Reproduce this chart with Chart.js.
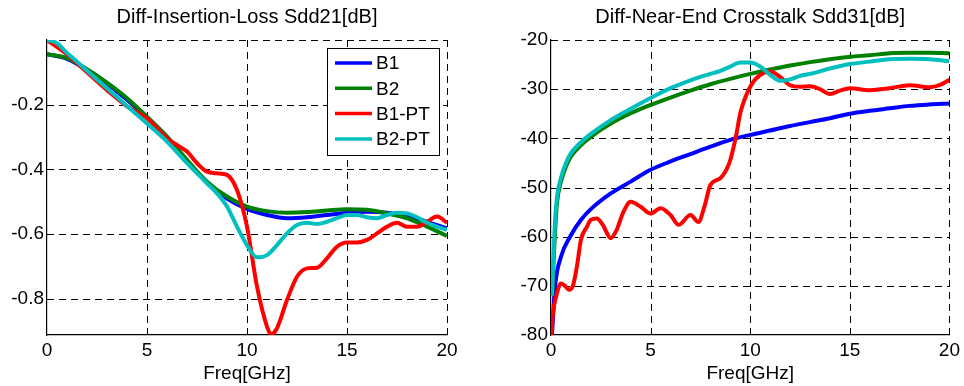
<!DOCTYPE html>
<html>
<head>
<meta charset="utf-8">
<script src="https://cdn.jsdelivr.net/npm/chart.js@4.4.0/dist/chart.umd.min.js"></script>
<style>
  html, body { margin: 0; padding: 0; background: #fff; }
  #wrap { position: relative; width: 964px; height: 386px; }
  .box { position: absolute; top: 0; width: 482px; height: 386px; }
</style>
</head>
<body>
<div id="wrap">
  <div class="box" style="left:0"><canvas id="ilChart"></canvas></div>
  <div class="box" style="left:482px"><canvas id="nextChart"></canvas></div>
</div>
<script>
// Insertion loss Sdd21 (left)
const ilB1F = [0, 1, 2, 3, 4, 5, 6, 7, 8, 9, 10, 11, 12, 13, 14, 15, 16, 17, 18, 19, 20];
const ilB1 = [-0.044, -0.058, -0.092, -0.135, -0.185, -0.24, -0.3, -0.372, -0.44, -0.49, -0.522, -0.541, -0.551, -0.548, -0.541, -0.534, -0.531, -0.534, -0.544, -0.562, -0.582];
const ilB2F = [0, 1, 2, 3, 4, 5, 6, 7, 8, 9, 10, 11, 12, 13, 14, 15, 16, 17, 18, 19, 20];
const ilB2 = [-0.044, -0.056, -0.09, -0.132, -0.18, -0.237, -0.299, -0.371, -0.438, -0.484, -0.515, -0.529, -0.534, -0.532, -0.527, -0.523, -0.525, -0.536, -0.551, -0.577, -0.606];
const ilB1ptF = [0, 1, 2, 3, 4, 5, 6, 6.5, 7, 7.5, 8, 8.5, 9, 9.5, 10, 10.5, 11, 11.2, 11.5, 12, 12.5, 13, 13.5, 14, 14.5, 15, 15.5, 16, 16.5, 17, 17.5, 18, 18.5, 19, 19.5, 20];
const ilB1pt = [0, -0.045, -0.1, -0.155, -0.205, -0.242, -0.304, -0.325, -0.345, -0.381, -0.407, -0.412, -0.417, -0.464, -0.577, -0.762, -0.886, -0.91, -0.891, -0.804, -0.732, -0.706, -0.704, -0.675, -0.639, -0.626, -0.626, -0.618, -0.598, -0.577, -0.565, -0.577, -0.577, -0.562, -0.546, -0.565];
const ilB2ptF = [0, 0.5, 1, 1.5, 2, 3, 4, 5, 6, 7, 8, 8.5, 9, 9.5, 10, 10.5, 11, 11.5, 12, 12.5, 13, 13.5, 14, 14.5, 15, 15.5, 16, 16.5, 17, 17.5, 18, 18.5, 19, 19.5, 20];
const ilB2pt = [0, -0.01, -0.04, -0.067, -0.095, -0.149, -0.204, -0.258, -0.314, -0.381, -0.443, -0.474, -0.515, -0.577, -0.634, -0.672, -0.665, -0.634, -0.598, -0.572, -0.565, -0.569, -0.562, -0.551, -0.541, -0.541, -0.548, -0.551, -0.541, -0.534, -0.536, -0.548, -0.565, -0.577, -0.587];
const ilTicks = [-0.8, -0.6, -0.4, -0.2, 0];

// Near-end crosstalk Sdd31 (right)
const nxB1F = [0.05, 0.2, 0.5, 1, 1.5, 2, 3, 4, 5, 6, 7, 8, 9, 10, 11, 12, 13, 14, 15, 16, 17, 18, 19, 20];
const nxB1 = [-80, -70.2, -64.1, -59.7, -56.6, -54.4, -51.2, -48.8, -46.4, -44.7, -43.2, -41.7, -40.3, -39.3, -38.4, -37.5, -36.7, -35.9, -35, -34.4, -33.9, -33.4, -33.1, -32.9];
const nxB2F = [0.05, 0.2, 0.3, 0.5, 0.75, 1, 1.5, 2, 3, 4, 5, 6, 7, 8, 9, 10, 11, 12, 13, 14, 15, 16, 17, 18, 19, 20];
const nxB2 = [-72, -59.3, -53.2, -48.8, -45.8, -43.7, -41.4, -39.7, -37, -34.9, -33.2, -31.7, -30.3, -29, -27.9, -26.9, -26, -25.2, -24.5, -23.9, -23.4, -23.1, -22.7, -22.6, -22.6, -22.7];
const nxB1ptF = [0.02, 0.1, 0.3, 0.5, 0.7, 0.9, 1.1, 1.3, 1.5, 1.8, 2, 2.3, 2.6, 3, 3.3, 3.6, 4, 4.5, 5, 5.5, 6, 6.4, 7, 7.4, 7.7, 8, 8.5, 8.8, 9, 9.3, 9.5, 10, 10.5, 11, 11.5, 12, 12.5, 13, 13.5, 14, 14.5, 15, 16, 17, 18, 19, 19.5, 20];
const nxB1pt = [-80, -75.6, -71.5, -69.5, -70, -70.8, -70, -66.1, -60.7, -58, -56.6, -56.3, -57.6, -60.3, -58.6, -55.3, -52.9, -53.9, -55.3, -54.2, -55.6, -57.6, -55.6, -57, -53.9, -49.5, -48.1, -46.4, -44.4, -39.3, -34.9, -29.5, -27.1, -26.4, -27.5, -29.2, -29.5, -29.4, -30, -31, -30.3, -29.8, -30.2, -29.8, -29.2, -29.6, -29.2, -28.1];
const nxB2ptF = [0.05, 0.2, 0.3, 0.5, 0.75, 1, 1.5, 2, 3, 4, 5, 6, 7, 8, 8.5, 9, 9.5, 10, 10.5, 11, 11.5, 12, 12.5, 13, 14, 15, 16, 17, 18, 19, 20];
const nxB2pt = [-72, -57, -52, -48, -45, -43, -40.8, -39.1, -36.3, -34, -31.8, -29.8, -28.2, -26.9, -26.3, -25.4, -24.6, -24.6, -25.4, -27.1, -28.3, -28, -27.3, -26.9, -25.8, -24.9, -24.4, -23.9, -23.8, -23.9, -24.3];
const nxTicks = [-80, -70, -60, -50, -40, -30, -20];

const freqTicks = [0, 5, 10, 15, 20];
const seriesNames = ['B1', 'B2', 'B1-PT', 'B2-PT'];
const seriesColors = ['#0000ff', '#008000', '#ff0000', '#00bfbf'];

const FONT = '"Liberation Sans", Arial, Helvetica, sans-serif';
const FSIZE = 19;

function pts(xs, ys) {
    return xs.map((x, i) => ({ x: x, y: ys[i] }));
}

function makeDatasets(pairs) {
    return pairs.map((p, i) => ({
        label: seriesNames[i],
        data: pts(p[0], p[1]),
        borderColor: seriesColors[i],
        backgroundColor: seriesColors[i],
        borderWidth: 4,
        pointRadius: 0,
        cubicInterpolationMode: 'monotone',
        fill: false,
        order: 4 - i
    }));
}

// legend box drawn inside the plot area, like the MATLAB one
const insideLegend = {
    id: 'insideLegend',
    afterDatasetsDraw(chart, args, opts) {
        if (!opts.show) return;
        const ctx = chart.ctx;
        const area = chart.chartArea;
        const w = 112, h = 107;
        const x0 = area.right - 8 - w, y0 = area.top + 8;
        ctx.save();
        ctx.fillStyle = '#fff';
        ctx.fillRect(x0, y0, w, h);
        ctx.strokeStyle = '#000';
        ctx.lineWidth = 1;
        ctx.strokeRect(x0 + 0.5, y0 + 0.5, w, h);
        ctx.font = FSIZE + 'px ' + FONT;
        ctx.textBaseline = 'middle';
        chart.data.datasets.forEach((ds, i) => {
            const y = y0 + 15 + i * 25.3;
            ctx.strokeStyle = ds.borderColor;
            ctx.lineWidth = 3.5;
            ctx.beginPath();
            ctx.moveTo(x0 + 8, y);
            ctx.lineTo(x0 + 45, y);
            ctx.stroke();
            ctx.fillStyle = '#000';
            ctx.fillText(ds.label, x0 + 49, y + 1);
        });
        ctx.restore();
    }
};

// dashed grid lines (MATLAB style)
const dashGrid = {
    id: 'dashGrid',
    beforeDatasetsDraw(chart) {
        const ctx = chart.ctx;
        const a = chart.chartArea;
        const xs = chart.scales.x, ys = chart.scales.y;
        ctx.save();
        ctx.strokeStyle = '#000';
        ctx.lineWidth = 1;
        ctx.setLineDash([7, 5]);
        xs.ticks.forEach(t => {
            if (t.value === xs.min) return;
            const px = Math.round(xs.getPixelForValue(t.value)) + 0.5;
            ctx.beginPath(); ctx.moveTo(px, a.bottom); ctx.lineTo(px, a.top); ctx.stroke();
        });
        ys.ticks.forEach(t => {
            if (t.value === ys.min) return;
            const py = Math.round(ys.getPixelForValue(t.value)) + 0.5;
            ctx.beginPath(); ctx.moveTo(a.left, py); ctx.lineTo(a.right, py); ctx.stroke();
        });
        ctx.restore();
    }
};

Chart.register(insideLegend, dashGrid);

function makeOptions(title, yMin, yMax, yTicks, yWidth, padRight, showLegend, hideZero) {
    const tickFont = { family: FONT, size: FSIZE };
    return {
        responsive: true,
        maintainAspectRatio: false,
        animation: false,
        layout: { padding: { left: 0, right: padRight, top: 0, bottom: 0 } },
        scales: {
            x: {
                type: 'linear',
                min: 0,
                max: 20,
                afterBuildTicks: s => { s.ticks = freqTicks.map(v => ({ value: v })); },
                afterFit: s => { s.height = 51; },
                grid: { display: false, drawTicks: false },
                border: { display: true, color: '#000', width: 1.2 },
                ticks: { color: '#000', font: tickFont, padding: 4, maxRotation: 0 },
                title: { display: true, text: 'Freq[GHz]', color: '#000', font: tickFont, padding: { top: 0, bottom: 1 } }
            },
            y: {
                type: 'linear',
                min: yMin,
                max: yMax,
                afterBuildTicks: s => { s.ticks = yTicks.map(v => ({ value: v })); },
                afterFit: s => { s.width = yWidth; },
                grid: { display: false, drawTicks: false },
                border: { display: true, color: '#000', width: 1.2 },
                ticks: {
                    color: '#000',
                    font: tickFont,
                    padding: 3,
                    callback: v => (hideZero && v === 0) ? '' : String(v)
                }
            }
        },
        plugins: {
            legend: { display: false },
            tooltip: { enabled: false },
            insideLegend: { show: showLegend },
            title: {
                display: true,
                fullSize: false,
                text: title,
                color: '#000',
                font: { family: FONT, size: 20, weight: 'normal' },
                padding: { top: 5, bottom: 11 }
            }
        }
    };
}

// Gráfico esquerdo: Sdd21
const ctxIL = document.getElementById('ilChart').getContext('2d');
const ilChart = new Chart(ctxIL, {
    type: 'line',
    data: {
        datasets: makeDatasets([[ilB1F, ilB1], [ilB2F, ilB2], [ilB1ptF, ilB1pt], [ilB2ptF, ilB2pt]])
    },
    options: makeOptions('Diff-Insertion-Loss Sdd21[dB]', -0.912, 0, ilTicks, 47, 35, true, true)
});

// Gráfico direito: Sdd31
const ctxNX = document.getElementById('nextChart').getContext('2d');
const nextChart = new Chart(ctxNX, {
    type: 'line',
    data: {
        datasets: makeDatasets([[nxB1F, nxB1], [nxB2F, nxB2], [nxB1ptF, nxB1pt], [nxB2ptF, nxB2pt]])
    },
    options: makeOptions('Diff-Near-End Crosstalk Sdd31[dB]', -80, -20, nxTicks, 69, 13, false, false)
});
</script>
</body>
</html>
